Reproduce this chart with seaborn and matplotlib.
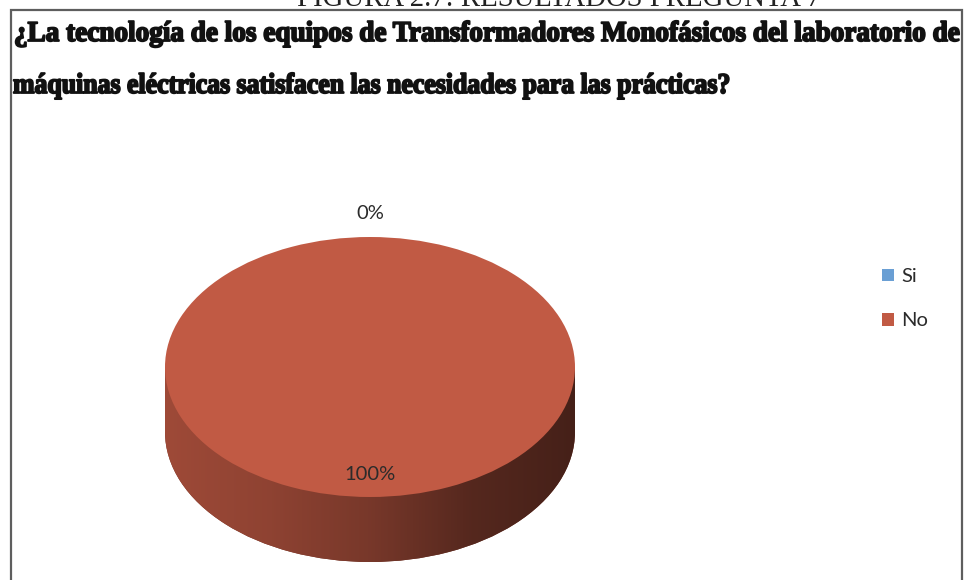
import numpy as np
import matplotlib
matplotlib.use("Agg")
import matplotlib.pyplot as plt
import seaborn as sns
from matplotlib.patches import Rectangle
from matplotlib.colors import LinearSegmentedColormap, to_rgb
from matplotlib.patheffects import AbstractPathEffect
from matplotlib.transforms import Affine2D

# ---- data ----
categories = ["Si", "No"]
values = [0, 100]
pct_labels = ["0%", "100%"]
figure_caption = "FIGURA 2.7: RESULTADOS PREGUNTA 7"
question_line1 = "¿La tecnología de los equipos de Transformadores Monofásicos del laboratorio de"
question_line2 = "máquinas eléctricas satisfacen las necesidades para las prácticas?"

sns.set_theme(style="white")
colors = sns.color_palette(["#6a9fd4", "#c15a44"])

W, H = 966, 580
fig = plt.figure(figsize=(W / 100, H / 100), dpi=100)
fig.patch.set_facecolor("white")


def fx(px):
    return px / W


def fy(py):
    return 1 - py / H


class Stretch(AbstractPathEffect):
    """Vertically stretch text about its baseline anchor (condensed look) and embolden it."""

    def __init__(self, y0, sy=1.0, lw=0.0):
        super().__init__()
        self.y0 = y0
        self.sy = sy
        self.lw = lw

    def draw_path(self, renderer, gc, tpath, affine, rgbFace=None):
        aff = affine + Affine2D().translate(0, -self.y0).scale(1, self.sy).translate(0, self.y0)
        gc0 = renderer.new_gc()
        gc0.copy_properties(gc)
        if self.lw > 0 and rgbFace is not None:
            gc0.set_linewidth(self.lw)
            gc0.set_foreground(rgbFace)
            gc0.set_joinstyle("round")
        else:
            gc0.set_linewidth(0)
        renderer.draw_path(gc0, tpath, aff, rgbFace)
        gc0.restore()


# border box
fig.patches.append(Rectangle((fx(11), fy(590)), fx(962) - fx(11), fy(10) - fy(590),
                             transform=fig.transFigure, fill=False,
                             edgecolor="#5e5e5e", linewidth=1.6, zorder=0))

# caption (partially cut at top, as in the reference) and question
cap = fig.text(fx(297), fy(6), figure_caption, family="Liberation Serif",
               fontsize=20, color="#222222", ha="left", va="baseline")
q1 = fig.text(fx(14), fy(41), question_line1, family="Liberation Serif",
              fontweight="bold", fontsize=20, color="#111111", ha="left", va="baseline")
q2 = fig.text(fx(13), fy(93), question_line2, family="Liberation Serif",
              fontweight="bold", fontsize=20, color="#111111", ha="left", va="baseline")

fig.canvas.draw()
r = fig.canvas.get_renderer()
bb = cap.get_window_extent(r)
cap.set_fontsize(cap.get_fontsize() * 525 / bb.width)
cap_height_px = 19.0
for t, ybase, target in [(q1, 41, 945), (q2, 93, 718)]:
    bb = t.get_window_extent(r)
    fs = t.get_fontsize() * target / bb.width
    t.set_fontsize(fs)
    fs_px = fs * 100 / 72
    sy = cap_height_px / (0.662 * fs_px)
    t.set_path_effects([Stretch(H - ybase, sy=sy, lw=1.3)])

# ---- pie axes (elliptical via non-equal aspect) ----
cx, cy, a, b = 370, 367, 205, 130
xr = (-1.3, 1.3)
yr = (-1.65, 1.4)
left = cx + xr[0] * a
top = cy - yr[1] * b
width = (xr[1] - xr[0]) * a
height = (yr[1] - yr[0]) * b
ax = fig.add_axes([fx(left), fy(top + height), fx(width), height / H])

depth = 0.5
start = 90

# side (bottom) pie
side_wedges, _ = ax.pie(values, startangle=start, counterclock=False,
                        center=(0, -depth), colors=colors,
                        wedgeprops=dict(linewidth=0))


def side_cmap(c):
    c = np.array(to_rgb(c))
    return LinearSegmentedColormap.from_list(
        "side", [c * 0.82, c * 0.74, c * 0.62, c * 0.44, c * 0.36])


grad = np.linspace(0, 1, 256).reshape(1, -1)
for w, c, v in zip(side_wedges, colors, values):
    w.set_facecolor(np.array(to_rgb(c)) * 0.6)
    if v == 0:
        continue
    im = ax.imshow(grad, extent=[-1, 1, -1 - depth, 0], aspect="auto",
                   cmap=side_cmap(c), zorder=1, interpolation="bilinear")
    im.set_clip_path(w)
    rect = Rectangle((-1, -depth), 2, depth, transform=ax.transData,
                     facecolor="none", edgecolor="none")
    ax.add_patch(rect)
    im2 = ax.imshow(grad, extent=[-1, 1, -1 - depth, 0], aspect="auto",
                    cmap=side_cmap(c), zorder=1, interpolation="bilinear")
    im2.set_clip_path(rect)

# top pie
top_wedges, _ = ax.pie(values, startangle=start, counterclock=False,
                       center=(0, 0), colors=colors,
                       wedgeprops=dict(linewidth=0))
for w in top_wedges:
    w.set_zorder(3)

# percentage labels
total = sum(values)
ang = start
for v, lab in zip(values, pct_labels):
    span = 360 * v / total
    mid = np.deg2rad(ang - span / 2)
    rr = 1.18 if v / total < 0.05 else 0.83
    ax.text(rr * np.cos(mid), rr * np.sin(mid), lab, ha="center", va="center",
            fontsize=14.5, family="Lato", color="#2b2b2b", zorder=5)
    ang -= span

ax.set_xlim(*xr)
ax.set_ylim(*yr)
ax.set_aspect("auto")
ax.axis("off")

# legend
fig.legend(top_wedges, categories, loc="upper left",
           bbox_to_anchor=(fx(872), fy(258)), frameon=False,
           prop=dict(family="Lato", size=14.5), labelcolor="#2b2b2b",
           handlelength=0.6, handleheight=0.6, handletextpad=0.35,
           labelspacing=1.35, borderpad=0)

fig.savefig("out.png", dpi=100, facecolor="white")
